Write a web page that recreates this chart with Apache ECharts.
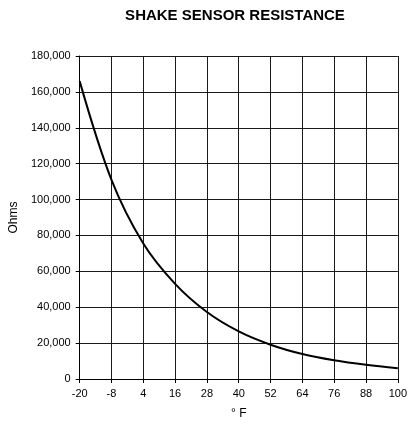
<!DOCTYPE html>
<html>
<head>
<meta charset="utf-8">
<script src="https://cdn.jsdelivr.net/npm/echarts@6/dist/echarts.min.js"></script>
<style>
  html, body { margin: 0; padding: 0; background: #fff; }
  #chart { width: 410px; height: 425px; }
</style>
</head>
<body>
<div id="chart"></div>
<script>
// Temperature (°F) along the bottom axis
const temperatures = [-20, -8, 4, 16, 28, 40, 52, 64, 76, 88, 100];
// Sensor resistance (Ohms) at each temperature
const resistance = [166000, 111000, 75500, 53000, 37300, 26500, 19100, 13900, 10400, 7900, 6000];
// Resistance axis ticks
const ohmTicks = [0, 20000, 40000, 60000, 80000, 100000, 120000, 140000, 160000, 180000];

const font = 'Arial, "Liberation Sans", sans-serif';
const gridColor = '#1a1a1a';

const chart = echarts.init(document.getElementById('chart'), null, { renderer: 'canvas' });
chart.setOption({
  animation: false,
  backgroundColor: '#fff',
  title: {
    text: 'SHAKE SENSOR RESISTANCE',
    left: 230,
    top: 3,
    textAlign: 'center',
    textStyle: { fontFamily: font, fontSize: 15, fontWeight: 'bold', color: '#000' }
  },
  grid: { left: 79, top: 56, width: 322, height: 327, containLabel: false },
  xAxis: {
    type: 'category',
    data: temperatures.map(String),
    boundaryGap: false,
    name: '\u00B0 F',
    nameLocation: 'middle',
    nameGap: 29,
    nameTextStyle: { fontFamily: font, fontSize: 12, color: '#000' },
    axisLine: { lineStyle: { color: '#000', width: 1 } },
    axisTick: { show: true, alignWithLabel: true, length: 4, lineStyle: { color: '#000' } },
    axisLabel: { fontFamily: font, fontSize: 11, color: '#000', margin: 9, interval: 0 },
    splitLine: { show: true, interval: 0, lineStyle: { color: gridColor, width: 1 } }
  },
  yAxis: {
    type: 'value',
    min: ohmTicks[0],
    max: ohmTicks[ohmTicks.length - 1],
    interval: ohmTicks[1] - ohmTicks[0],
    name: 'Ohms',
    nameLocation: 'middle',
    nameGap: 59,
    nameRotate: 90,
    nameTextStyle: { fontFamily: font, fontSize: 12, color: '#000' },
    axisLine: { show: true, lineStyle: { color: '#000', width: 1 } },
    axisTick: { show: true, length: 4, lineStyle: { color: '#000' } },
    axisLabel: {
      fontFamily: font, fontSize: 11, color: '#000', margin: 9,
      formatter: v => v.toLocaleString('en-US')
    },
    splitLine: { show: true, lineStyle: { color: gridColor, width: 1 } }
  },
  series: [{
    type: 'line',
    data: resistance,
    smooth: 0.35,
    symbol: 'none',
    lineStyle: { color: '#000', width: 2 }
  }]
});
</script>
</body>
</html>
